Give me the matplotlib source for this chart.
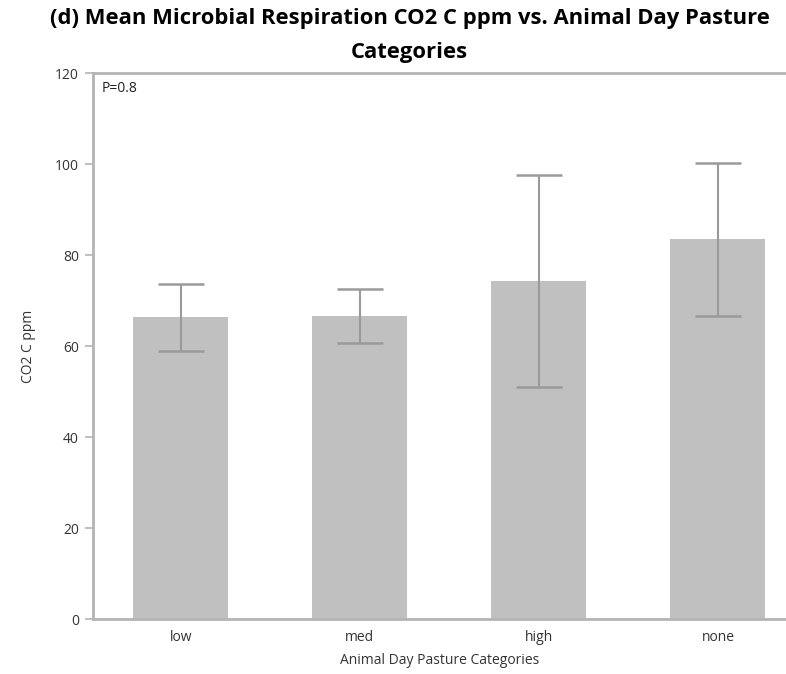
import matplotlib.pyplot as plt

# Mean CO2 C ppm per category, with error bar half-widths
categories = ["low", "med", "high", "none"]
means = [66.3, 66.7, 74.3, 83.5]
err_low = [7.4, 6.0, 23.3, 16.8]
err_high = [7.4, 5.8, 23.3, 16.8]

plt.rcParams["font.family"] = ["Open Sans", "DejaVu Sans"]

fig = plt.figure(figsize=(7.86, 6.74), dpi=100)
ax = fig.add_axes([0.1183, 0.0816, 0.8817, 0.810])

x = range(len(categories))
ax.bar(x, means, width=0.53, color="#c0c0c0", zorder=1)
ax.errorbar(x, means, yerr=[err_low, err_high], fmt="none",
            ecolor="#9a9a9a", elinewidth=1.5, capsize=16.5, capthick=1.8, zorder=2)

ax.set_xlim(-0.49, 3.38)
ax.set_ylim(0, 120)
ax.set_yticks(range(0, 121, 20))
ax.set_xticks(list(x))
ax.set_xticklabels(categories)

ax.spines["right"].set_visible(False)
for side in ["left", "bottom", "top"]:
    ax.spines[side].set_color("#b4b4b4")
    ax.spines[side].set_linewidth(2)

ax.tick_params(axis="y", length=6, width=1.2, color="#b4b4b4",
               labelsize=10, labelcolor="#333333", pad=4)
ax.tick_params(axis="x", length=0, labelsize=10, labelcolor="#333333", pad=8)

ax.set_xlabel("Animal Day Pasture Categories", fontsize=10, color="#333333", labelpad=6)
ax.set_ylabel("CO2 C ppm", fontsize=10, color="#333333", labelpad=14)

ax.text(0.012, 0.985, "P=0.8", transform=ax.transAxes, ha="left", va="top",
        fontsize=10, color="#222222")

fig.text(0.521, 0.988, "(d) Mean Microbial Respiration CO2 C ppm vs. Animal Day Pasture\nCategories",
         ha="center", va="top", fontsize=15.8, fontweight="bold", linespacing=1.8)

fig.savefig("out.png", dpi=100)
